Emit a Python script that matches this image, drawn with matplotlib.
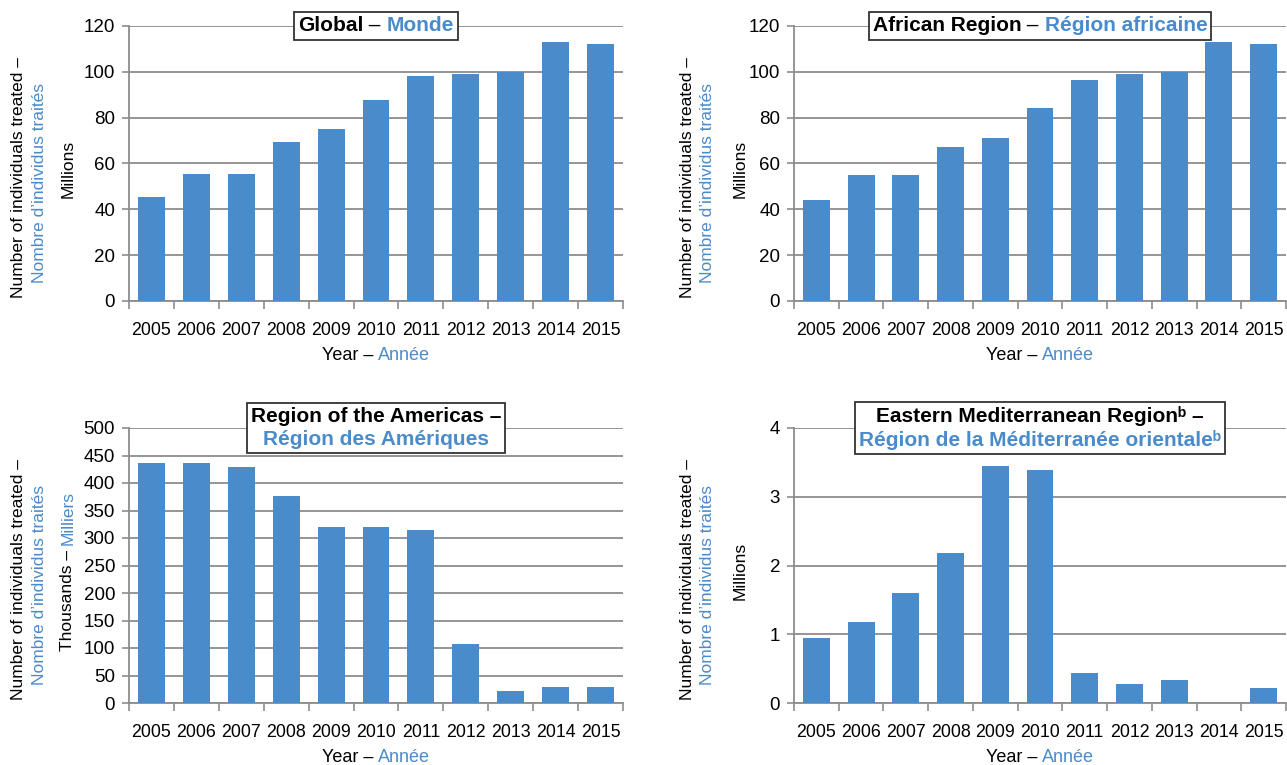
import matplotlib
matplotlib.use("Agg")
import matplotlib.pyplot as plt
from matplotlib.offsetbox import TextArea, HPacker, VPacker, AnchoredOffsetbox

FONT = ['Liberation Sans', 'DejaVu Sans']
plt.rcParams['font.family'] = FONT

BLUE = '#4a8bcb'
GRID = '#8c8c8c'

years = ['2005', '2006', '2007', '2008', '2009', '2010', '2011', '2012', '2013', '2014', '2015']

# values
global_m = [45.5, 55.5, 55.5, 69.5, 75, 87.5, 98, 99, 100, 113, 112]
africa_m = [44, 55, 55, 67, 71, 84, 96.5, 99, 100, 113, 112]
americas_k = [437, 437, 430, 377, 320, 320, 314, 107, 22, 29, 29]
emr_m = [0.95, 1.18, 1.6, 2.18, 3.45, 3.39, 0.44, 0.28, 0.34, 0, 0.22]

panels = [
    dict(vals=global_m, ymax=120, step=20,
         title=[[('Global', 'black', 'bold'), (' – ', 'black', 'normal'), ('Monde', BLUE, 'bold')]],
         unit=[('Millions', 'black')]),
    dict(vals=africa_m, ymax=120, step=20,
         title=[[('African Region', 'black', 'bold'), (' – ', 'black', 'normal'),
                 ('Région africaine', BLUE, 'bold')]],
         unit=[('Millions', 'black')]),
    dict(vals=americas_k, ymax=500, step=50,
         title=[[('Region of the Americas –', 'black', 'bold')],
                [('Région des Amériques', BLUE, 'bold')]],
         unit=[('Thousands – ', 'black'), ('Milliers', BLUE)]),
    dict(vals=emr_m, ymax=4, step=1,
         title=[[('Eastern Mediterranean Regionᵇ –', 'black', 'bold')],
                [('Région de la Méditerranée orientaleᵇ', BLUE, 'bold')]],
         unit=[('Millions', 'black')]),
]

W, H = 1287, 765
fig = plt.figure(figsize=(W / 100, H / 100), dpi=100)

# axes boxes in pixels: left, top, right, bottom
boxes = [(129, 26, 623, 301), (794, 26, 1286, 301),
         (129, 428, 623, 703), (794, 428, 1286, 703)]
unit_off = [-61, -54, -61, -54]
lab_off = [(-110, -90), (-107, -87), (-110, -90), (-107, -87)]


def packed(lines, size):
    rows = []
    for parts in lines:
        areas = [TextArea(s, textprops=dict(color=c, fontweight=w, fontsize=size, family=FONT))
                 for s, c, w in parts]
        rows.append(HPacker(children=areas, align='baseline', pad=0, sep=0))
    return VPacker(children=rows, align='center', pad=0, sep=3)


for p, (l, t, r, b), uo, (lo1, lo2) in zip(panels, boxes, unit_off, lab_off):
    ax = fig.add_axes([l / W, 1 - b / H, (r - l) / W, (b - t) / H])
    x = range(len(years))
    ax.bar(x, p['vals'], width=0.6, color=BLUE, zorder=3)
    ax.set_xlim(-0.5, len(years) - 0.5)
    ax.set_ylim(0, p['ymax'])
    ticks = [i * p['step'] for i in range(int(round(p['ymax'] / p['step'])) + 1)]
    ax.set_yticks(ticks)
    ax.set_yticklabels([('%g' % v) for v in ticks], fontsize=13.5)
    ax.set_xticks(list(x))
    ax.set_xticklabels(years, fontsize=12.8)
    ax.set_xticks([i - 0.5 for i in range(len(years) + 1)], minor=True)
    ax.tick_params(axis='x', which='major', length=0, pad=15)
    ax.tick_params(axis='x', which='minor', length=6, width=1.2, color=GRID)
    ax.tick_params(axis='y', length=5, width=1.2, color=GRID, pad=5)
    ax.yaxis.grid(True, color=GRID, linewidth=1.3, zorder=0)
    ax.set_axisbelow(True)
    for s in ['top', 'right']:
        ax.spines[s].set_visible(False)
    for s in ['left', 'bottom']:
        ax.spines[s].set_color(GRID)
        ax.spines[s].set_linewidth(1.3)

    # title box
    tb = AnchoredOffsetbox(loc='center', child=packed(p['title'], 15), pad=0.3, borderpad=0,
                           frameon=True, bbox_to_anchor=(0.5, 1.0), bbox_transform=ax.transAxes)
    tb.patch.set_boxstyle('square', pad=0)
    tb.patch.set_edgecolor('#333333')
    tb.patch.set_linewidth(1.3)
    tb.set_zorder(10)
    fig.add_artist(tb)

    # x label
    xl = AnchoredOffsetbox(loc='center', child=packed([[('Year – ', 'black', 'normal'),
                                                          ('Année', BLUE, 'normal')]], 13),
                           pad=0, borderpad=0, frameon=False,
                           bbox_to_anchor=(0.5, -55 / (b - t)), bbox_transform=ax.transAxes)
    fig.add_artist(xl)

    # y labels
    ax.annotate('Number of individuals treated –', xy=(0, 0.45), xycoords='axes fraction',
                xytext=(lo1 * 0.72, 0), textcoords='offset points', rotation=90,
                ha='center', va='center', fontsize=12.5, color='black')
    ax.annotate('Nombre d’individus traités', xy=(0, 0.43), xycoords='axes fraction',
                xytext=(lo2 * 0.72, 0), textcoords='offset points', rotation=90,
                ha='center', va='center', fontsize=12.5, color=BLUE)
    if len(p['unit']) == 1:
        ax.annotate(p['unit'][0][0], xy=(0, 0.48), xycoords='axes fraction',
                    xytext=(uo * 0.72, 0), textcoords='offset points', rotation=90,
                    ha='center', va='center', fontsize=12.5, color=p['unit'][0][1])
    else:
        t1 = ax.annotate(p['unit'][0][0], xy=(0, 0.19), xycoords='axes fraction',
                         xytext=(uo * 0.72, 0), textcoords='offset points', rotation=90,
                         ha='center', va='bottom', fontsize=12.5, color=p['unit'][0][1])
        ax.annotate(p['unit'][1][0], xy=(0.5, 1.0), xycoords=t1, rotation=90,
                    ha='center', va='bottom', fontsize=12.5, color=p['unit'][1][1])

fig.savefig('out.png', dpi=100)
